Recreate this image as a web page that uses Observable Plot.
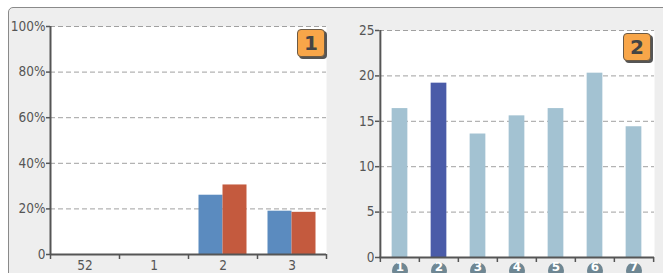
<!DOCTYPE html>
<html>
<head>
<meta charset="utf-8">
<script src="https://cdn.jsdelivr.net/npm/d3@7"></script>
<script src="https://cdn.jsdelivr.net/npm/@observablehq/plot@0.6"></script>
<style>
  body { margin: 0; background: #fff; }
  #wrap { position: relative; width: 663px; height: 273px; overflow: hidden; background: #fff; }
  .bg { position: absolute; left: 8px; top: 7px; width: 720px; height: 320px; background: #eeeeee; border: 1px solid #8a8a8a; border-radius: 5px; }
  .chart { position: absolute; top: 0; }
  .badge { position: absolute; width: 26px; height: 26px; background: #f8a649; border: 1px solid #6b5a45; border-radius: 4px;
           box-shadow: 2px 2px 0 #555; font: bold 20px "DejaVu Sans", sans-serif; color: #444; text-align: center; line-height: 26px; }
</style>
</head>
<body>
<div id="wrap">
  <div class="bg"></div>
  <div id="left" class="chart" style="left:0px"></div>
  <div id="right" class="chart" style="left:330px"></div>
  <div class="badge" style="left:297px;top:29px">1</div>
  <div class="badge" style="left:623px;top:33px">2</div>
</div>
<script>
// ---- data ----
const leftCategories = ["52", "1", "2", "3"];
const leftSeriesBlue = [0, 0, 0.26, 0.19];
const leftSeriesRed = [0, 0, 0.305, 0.185];
const leftTicks = [0, 0.2, 0.4, 0.6, 0.8, 1];

const rightCategories = ["1", "2", "3", "4", "5", "6", "7"];
const rightValues = [16.4, 19.2, 13.6, 15.6, 16.4, 20.3, 14.4];
const rightHighlight = "2";
const rightTicks = [0, 5, 10, 15, 20, 25];

const font = "'Liberation Sans Narrow', 'DejaVu Sans Condensed', 'Roboto Condensed', sans-serif";
const axisColor = "#555";
const gridColor = "#a0a0a0";

// ---- left chart ----
{
  const W = 340, H = 273, mL = 50, mR = 14, mT = 26, mB = 19;
  const bw = (W - mL - mR) / leftCategories.length;
  const blue = leftCategories.map((c, i) => ({cat: c, value: leftSeriesBlue[i]}));
  const red = leftCategories.map((c, i) => ({cat: c, value: leftSeriesRed[i]}));
  const inset = (bw - 24) / 2;
  const chart = Plot.plot({
    width: W, height: H, marginLeft: mL, marginRight: mR, marginTop: mT, marginBottom: mB,
    style: {fontFamily: font, fontSize: "13.5px", color: axisColor, background: "transparent", overflow: "visible"},
    x: {domain: leftCategories, padding: 0, label: null},
    y: {domain: [0, 1], ticks: leftTicks, label: null},
    marks: [
      Plot.frame({fill: "white", stroke: null}),
      Plot.gridY(leftTicks, {stroke: gridColor, strokeOpacity: 1, strokeDasharray: "5,3"}),
      Plot.barY(blue, {x: "cat", y: "value", fill: "#5b8bbf", dx: -12, insetLeft: inset, insetRight: inset}),
      Plot.barY(red, {x: "cat", y: "value", fill: "#c45a3e", dx: 12, insetLeft: inset, insetRight: inset}),
      Plot.axisY(leftTicks, {tickSize: 4, tickPadding: 1, stroke: axisColor, strokeWidth: 1.5, label: null,
        tickFormat: d => d === 0 ? "0" : d3.format(".0%")(d)}),
      Plot.axisX({tickSize: 0, tickPadding: 6, label: null}),
      Plot.ruleX([leftCategories[0]], {dx: -bw / 2, stroke: axisColor, strokeWidth: 2}),
      Plot.ruleY([0], {stroke: axisColor, strokeWidth: 2}),
      Plot.ruleX(leftCategories, {dx: -bw / 2, stroke: axisColor, strokeWidth: 1.5, insetTop: H - mT - mB, insetBottom: -5}),
      Plot.ruleX([leftCategories[leftCategories.length - 1]], {dx: bw / 2, stroke: axisColor, strokeWidth: 1.5, insetTop: H - mT - mB, insetBottom: -5})
    ]
  });
  document.getElementById("left").append(chart);
}

// ---- right chart ----
{
  const W = 333, H = 273, mL = 49, mR = 9, mT = 30, mB = 16;
  const bw = (W - mL - mR) / rightCategories.length;
  const data = rightCategories.map((c, i) => ({cat: c, value: rightValues[i]}));
  const inset = (bw - 16) / 2;
  const chart = Plot.plot({
    width: W, height: H, marginLeft: mL, marginRight: mR, marginTop: mT, marginBottom: mB,
    style: {fontFamily: font, fontSize: "13.5px", color: axisColor, background: "transparent", overflow: "visible"},
    x: {domain: rightCategories, padding: 0, axis: null, label: null},
    y: {domain: [0, 25], ticks: rightTicks, label: null},
    marks: [
      Plot.frame({fill: "white", stroke: null}),
      Plot.gridY(rightTicks, {stroke: gridColor, strokeOpacity: 1, strokeDasharray: "5,3"}),
      Plot.barY(data, {x: "cat", y: "value", fill: d => d.cat === rightHighlight ? "#4a5ba8" : "#a3c2d2", insetLeft: inset, insetRight: inset}),
      Plot.axisY(rightTicks, {tickSize: 4, tickPadding: 1, stroke: axisColor, strokeWidth: 1.5, label: null}),
      Plot.ruleX([rightCategories[0]], {dx: -bw / 2, stroke: axisColor, strokeWidth: 2}),
      Plot.ruleY([0], {stroke: axisColor, strokeWidth: 2}),
      Plot.ruleX(rightCategories, {dx: -bw / 2, stroke: axisColor, strokeWidth: 1.5, insetTop: H - mT - mB, insetBottom: -5}),
      Plot.ruleX([rightCategories[rightCategories.length - 1]], {dx: bw / 2, stroke: axisColor, strokeWidth: 1.5, insetTop: H - mT - mB, insetBottom: -5}),
      Plot.dot(rightCategories, {x: d => d, frameAnchor: "bottom", dy: 13, r: 8, fill: "#6f8793", stroke: null}),
      Plot.text(rightCategories, {x: d => d, frameAnchor: "bottom", dy: 13, text: d => d, fill: "white", fontWeight: "bold", fontSize: 12, fontFamily: "'DejaVu Sans', sans-serif"})
    ]
  });
  document.getElementById("right").append(chart);
}
</script>
</body>
</html>
